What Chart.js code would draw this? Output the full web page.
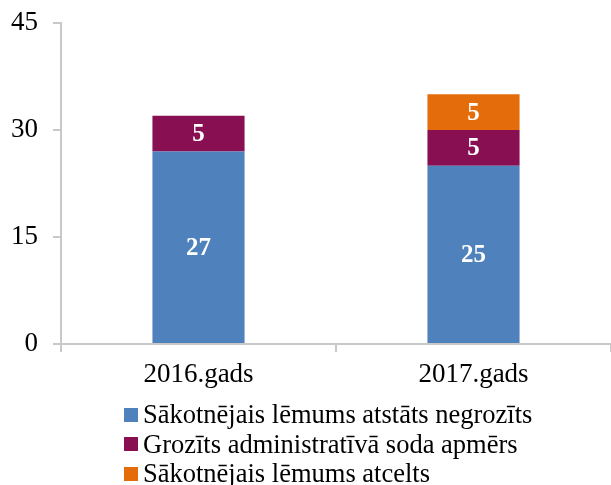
<!DOCTYPE html>
<html>
<head>
<meta charset="utf-8">
<script src="https://cdn.jsdelivr.net/npm/chart.js@4"></script>
<style>
  html, body { margin: 0; padding: 0; background: #fff; }
  #wrap { position: relative; width: 611px; height: 485px; overflow: hidden; }
  #c { position: absolute; left: 0; top: 0; }
  #legend { position: absolute; left: 124px; top: 400px; font-family: "Liberation Serif", "Times New Roman", serif; font-size: 26.5px; color: #000; }
  .item { height: 29.5px; line-height: 29.5px; display: flex; align-items: center; white-space: nowrap; }
  .sw { width: 14px; height: 14px; margin-right: 5px; flex: none; }
</style>
</head>
<body>
<div id="wrap">
  <canvas id="c" width="611" height="485"></canvas>
  <div id="legend"></div>
</div>
<script>
const categories = ["2016.gads", "2017.gads"];
const seriesNames = ["Sākotnējais lēmums atstāts negrozīts", "Grozīts administratīvā soda apmērs", "Sākotnējais lēmums atcelts"];
const unchanged = [27, 25];
const penaltyChanged = [5, 5];
const revoked = [null, 5];
const yTicks = [0, 15, 30, 45];
const colors = ["#4F81BD", "#870F52", "#E46C0A"];

const serif = "'Liberation Serif', 'Times New Roman', serif";
const values = [unchanged, penaltyChanged, revoked];

const labelPlugin = {
  id: 'barLabels',
  afterDatasetsDraw(chart) {
    const ctx = chart.ctx;
    ctx.save();
    ctx.fillStyle = '#fff';
    ctx.font = "bold 25px " + serif;
    ctx.textAlign = 'center';
    ctx.textBaseline = 'middle';
    chart.data.datasets.forEach((ds, di) => {
      const meta = chart.getDatasetMeta(di);
      meta.data.forEach((bar, i) => {
        const v = ds.data[i];
        if (v == null) return;
        const cy = (bar.y + bar.base) / 2;
        ctx.fillText(String(v), bar.x, cy + 1);
      });
    });
    ctx.restore();
  }
};

const chart = new Chart(document.getElementById('c'), {
  type: 'bar',
  data: {
    labels: categories,
    datasets: seriesNames.map((n, i) => ({
      label: n,
      data: values[i],
      backgroundColor: colors[i],
      borderWidth: 0,
      barPercentage: 0.335,
      categoryPercentage: 1.0
    }))
  },
  options: {
    responsive: false,
    animation: false,
    devicePixelRatio: 1,
    layout: { padding: { top: 23, right: 0, bottom: 91, left: 0 } },
    plugins: { legend: { display: false }, tooltip: { enabled: false } },
    scales: {
      x: {
        stacked: true,
        grid: { display: true, drawOnChartArea: false, drawTicks: true, tickLength: 8, color: '#C8C8C8', lineWidth: 2, offset: true },
        border: { display: true, color: '#C8C8C8', width: 2 },
        ticks: { color: '#000', font: { family: serif, size: 27 }, padding: 7 },
        afterFit(s) { s.height = 50; }
      },
      y: {
        stacked: true,
        min: 0, max: 45,
        afterBuildTicks(s) { s.ticks = yTicks.map(v => ({ value: v })); },
        grid: { display: true, drawOnChartArea: false, drawTicks: true, tickLength: 8, color: '#C8C8C8', lineWidth: 2 },
        border: { display: true, color: '#C8C8C8', width: 2 },
        ticks: { color: '#000', font: { family: serif, size: 27, lineHeight: 0.5 }, padding: 15 },
        afterFit(s) { s.width = 61; }
      }
    }
  },
  plugins: [labelPlugin]
});

const leg = document.getElementById('legend');
seriesNames.forEach((n, i) => {
  const d = document.createElement('div');
  d.className = 'item';
  const sw = document.createElement('span');
  sw.className = 'sw';
  sw.style.background = colors[i];
  const t = document.createElement('span');
  t.textContent = n;
  d.appendChild(sw); d.appendChild(t);
  leg.appendChild(d);
});
</script>
</body>
</html>
